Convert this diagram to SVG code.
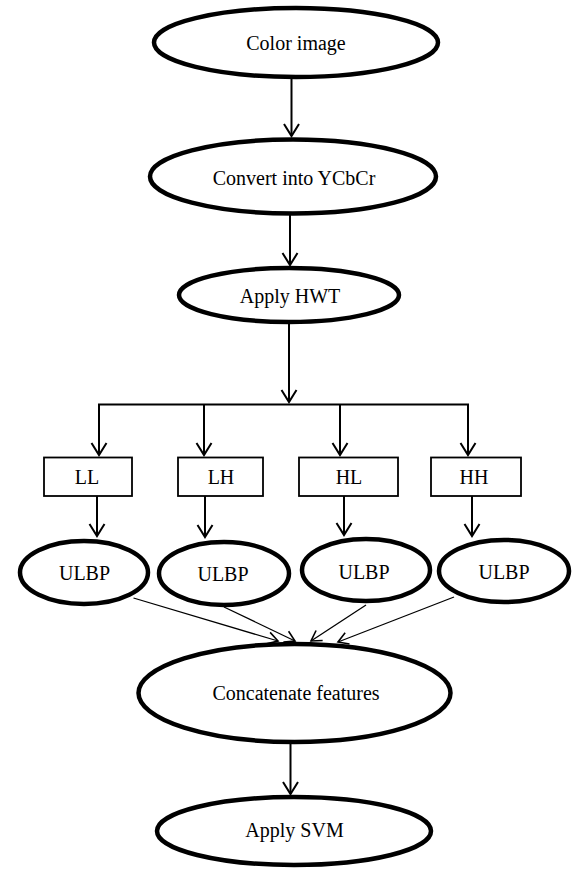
<svg xmlns="http://www.w3.org/2000/svg" width="573" height="870" viewBox="0 0 573 870">
<style>
.node ellipse{fill:#fff;stroke:#000;stroke-width:4.5}
.node rect{fill:#fff;stroke:#000;stroke-width:1.8}
text{font-family:'Liberation Serif',serif;font-size:20px;fill:#000;text-anchor:middle}
.arr{stroke:#000;stroke-width:2;fill:none}
.thin{stroke:#000;stroke-width:1.3;fill:none}
</style>
<defs>
<marker id="ah" markerUnits="userSpaceOnUse" markerWidth="20" markerHeight="20" viewBox="-14 -10 20 20" refX="0" refY="0" orient="auto">
<path d="M-12,-7.5 L0,0 L-12,7.5" fill="none" stroke="#000" stroke-width="2"/>
</marker>
<marker id="ahs" markerUnits="userSpaceOnUse" markerWidth="20" markerHeight="20" viewBox="-14 -10 20 20" refX="0" refY="0" orient="auto">
<path d="M-10,-6 L0,0 L-10,6" fill="none" stroke="#000" stroke-width="1.6"/>
</marker>
</defs>
<g id="connectors">
<line class="arr" x1="291.5" y1="79" x2="291.5" y2="136" marker-end="url(#ah)"/>
<line class="arr" x1="290" y1="214" x2="290" y2="265" marker-end="url(#ah)"/>
<line class="arr" x1="289" y1="323" x2="289" y2="402" marker-end="url(#ah)"/>
<polyline class="arr" points="99,455 99,404.5 468,404.5 468,455"/>
<line class="arr" x1="99" y1="404.5" x2="99" y2="455" marker-end="url(#ah)"/>
<line class="arr" x1="204" y1="404.5" x2="204" y2="455" marker-end="url(#ah)"/>
<line class="arr" x1="340" y1="404.5" x2="340" y2="455" marker-end="url(#ah)"/>
<line class="arr" x1="468" y1="404.5" x2="468" y2="455" marker-end="url(#ah)"/>
<line class="arr" x1="97" y1="496" x2="97" y2="536" marker-end="url(#ah)"/>
<line class="arr" x1="205" y1="496" x2="205" y2="537" marker-end="url(#ah)"/>
<line class="arr" x1="344" y1="496" x2="344" y2="535" marker-end="url(#ah)"/>
<line class="arr" x1="472" y1="496" x2="472" y2="536" marker-end="url(#ah)"/>
<line class="thin" x1="133.5" y1="598" x2="278" y2="641" marker-end="url(#ahs)"/>
<line class="thin" x1="224" y1="607" x2="295" y2="641" marker-end="url(#ahs)"/>
<line class="thin" x1="366" y1="605" x2="311" y2="641" marker-end="url(#ahs)"/>
<line class="thin" x1="454" y1="597" x2="338" y2="642" marker-end="url(#ahs)"/>
<line class="arr" x1="290.5" y1="744" x2="290.5" y2="794" marker-end="url(#ah)"/>
</g>
<g id="n-color" class="node"><ellipse cx="296" cy="42.5" rx="142" ry="34.5"/><text x="296" y="50" font-family="Liberation Serif, serif">Color image</text></g>
<g id="n-ycbcr" class="node"><ellipse cx="293" cy="176.5" rx="143" ry="37"/><text x="294" y="185" font-family="Liberation Serif, serif">Convert into YCbCr</text></g>
<g id="n-hwt" class="node"><ellipse cx="289" cy="295" rx="110" ry="27"/><text x="290" y="303" font-family="Liberation Serif, serif">Apply HWT</text></g>
<g id="n-ll" class="node"><rect x="44" y="457.5" width="88" height="38.5"/><text x="87" y="484" font-family="Liberation Serif, serif">LL</text></g>
<g id="n-lh" class="node"><rect x="178" y="457.5" width="85" height="38.5"/><text x="221" y="484" font-family="Liberation Serif, serif">LH</text></g>
<g id="n-hl" class="node"><rect x="299" y="457.5" width="99" height="38.5"/><text x="349" y="484" font-family="Liberation Serif, serif">HL</text></g>
<g id="n-hh" class="node"><rect x="431" y="457.5" width="90" height="38.5"/><text x="474" y="484" font-family="Liberation Serif, serif">HH</text></g>
<g id="n-ulbp1" class="node"><ellipse cx="84" cy="572.5" rx="64" ry="31.5"/><text x="84.5" y="579.5" font-family="Liberation Serif, serif">ULBP</text></g>
<g id="n-ulbp2" class="node"><ellipse cx="224" cy="573.5" rx="65" ry="31.5"/><text x="223" y="580.5" font-family="Liberation Serif, serif">ULBP</text></g>
<g id="n-ulbp3" class="node"><ellipse cx="366" cy="570" rx="64" ry="31"/><text x="364" y="578.5" font-family="Liberation Serif, serif">ULBP</text></g>
<g id="n-ulbp4" class="node"><ellipse cx="504" cy="571" rx="65" ry="31"/><text x="504" y="578.5" font-family="Liberation Serif, serif">ULBP</text></g>
<g id="n-concat" class="node"><ellipse cx="294.5" cy="693" rx="156" ry="49"/><text x="296" y="700" font-family="Liberation Serif, serif">Concatenate features</text></g>
<g id="n-svm" class="node"><ellipse cx="294" cy="831" rx="137" ry="34"/><text x="294.5" y="837" font-family="Liberation Serif, serif">Apply SVM</text></g>
</svg>
